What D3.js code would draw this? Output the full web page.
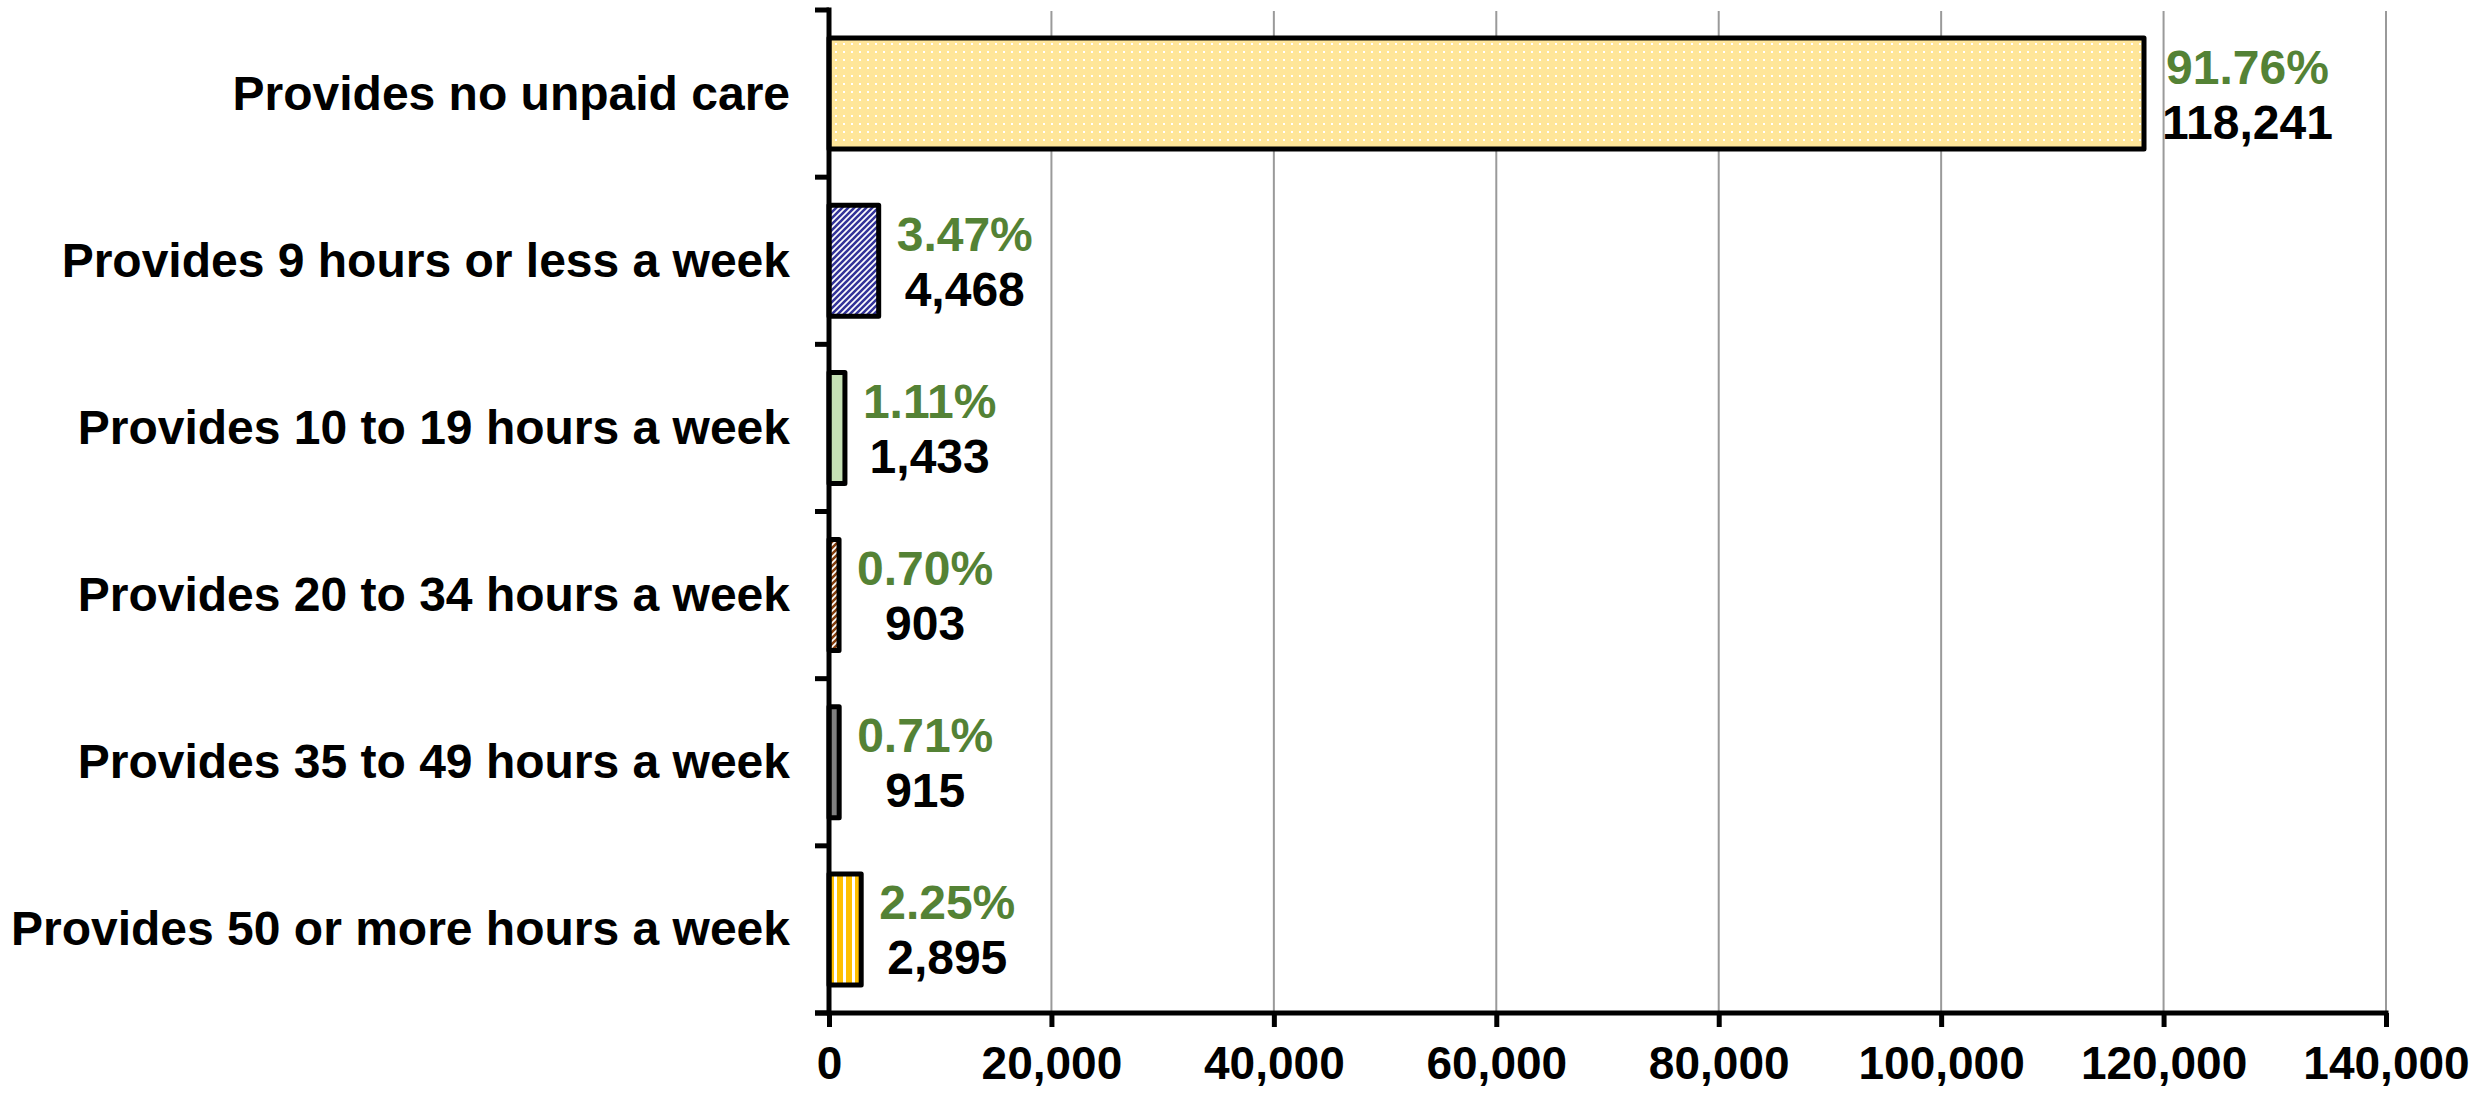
<!DOCTYPE html>
<html>
<head>
<meta charset="utf-8">
<script src="https://cdn.jsdelivr.net/npm/d3@7"></script>
<style>
  html, body { margin: 0; padding: 0; background: #fff; }
  svg { display: block; font-family: "Liberation Sans", Arial, sans-serif; font-weight: bold; }
</style>
</head>
<body>
<svg id="chart" width="2491" height="1093"></svg>
<script>
// Unpaid care provided - horizontal bar chart

const categories = [
  "Provides no unpaid care",
  "Provides 9 hours or less a week",
  "Provides 10 to 19 hours a week",
  "Provides 20 to 34 hours a week",
  "Provides 35 to 49 hours a week",
  "Provides 50 or more hours a week"
];
const counts = [118241, 4468, 1433, 903, 915, 2895];
const percents = ["91.76%", "3.47%", "1.11%", "0.70%", "0.71%", "2.25%"];
const xTicks = [0, 20000, 40000, 60000, 80000, 100000, 120000, 140000];

const PLOT_LEFT = 829;
const PLOT_RIGHT = 2386;
const PLOT_TOP = 10;
const PLOT_BOTTOM = 1013;
const FONT_SIZE = 48;
const TICK_FONT_SIZE = 46;
const COLOR_PCT = "#548235";
const COLOR_GRID = "#9a9a9a";

const svg = d3.select("#chart");
const defs = svg.append("defs");

// Fill patterns, one per bar
const dots = defs.append("pattern").attr("id", "pat0")
  .attr("patternUnits", "userSpaceOnUse").attr("width", 8).attr("height", 8);
dots.append("rect").attr("width", 8).attr("height", 8).attr("fill", "#FFE699");
dots.append("rect").attr("x", 3).attr("y", 3).attr("width", 2).attr("height", 2).attr("fill", "#fff");

const diag = (id, color) => {
  const p = defs.append("pattern").attr("id", id)
    .attr("patternUnits", "userSpaceOnUse").attr("width", 6).attr("height", 6);
  p.append("rect").attr("width", 6).attr("height", 6).attr("fill", "#fff");
  p.append("path")
    .attr("d", "M-1.5,1.5 L1.5,-1.5 M0,6 L6,0 M4.5,7.5 L7.5,4.5")
    .attr("stroke", color).attr("stroke-width", 2.6);
};
diag("pat1", "#333399");
diag("pat3", "#843C0C");

const vert = defs.append("pattern").attr("id", "pat5")
  .attr("patternUnits", "userSpaceOnUse").attr("width", 9).attr("height", 9);
vert.append("rect").attr("width", 9).attr("height", 9).attr("fill", "#fff");
vert.append("rect").attr("width", 6).attr("height", 9).attr("fill", "#FFC000");

const fills = ["url(#pat0)", "url(#pat1)", "#C5E0B4", "url(#pat3)", "#808080", "url(#pat5)"];

const x = d3.scaleLinear().domain([0, 140000]).range([PLOT_LEFT, PLOT_RIGHT]);
const y = d3.scaleBand().domain(categories).range([PLOT_TOP, PLOT_BOTTOM])
  .paddingInner(0.336).paddingOuter(0.168);

// Gridlines
svg.append("g")
  .selectAll("line")
  .data(xTicks.slice(1))
  .join("line")
  .attr("x1", (d) => x(d)).attr("x2", (d) => x(d))
  .attr("y1", PLOT_TOP + 1).attr("y2", PLOT_BOTTOM)
  .attr("stroke", COLOR_GRID).attr("stroke-width", 2);

// Bars
const barData = categories.map((c, i) => ({ cat: c, value: counts[i], pct: percents[i], fill: fills[i] }));

svg.append("g")
  .selectAll("rect")
  .data(barData)
  .join("rect")
  .attr("x", x(0))
  .attr("y", (d) => y(d.cat))
  .attr("width", (d) => x(d.value) - x(0))
  .attr("height", y.bandwidth())
  .attr("fill", (d) => d.fill)
  .attr("stroke", "#000")
  .attr("stroke-width", 5)
  .attr("stroke-linejoin", "round");

// X axis
const xAxis = svg.append("g")
  .attr("transform", "translate(0," + PLOT_BOTTOM + ")")
  .call(d3.axisBottom(x).tickValues(xTicks).tickSize(14).tickSizeOuter(0)
    .tickPadding(19).tickFormat(d3.format(",")));
xAxis.select(".domain").remove();
xAxis.selectAll(".tick line").attr("stroke", "#000").attr("stroke-width", 5);
xAxis.selectAll("text")
  .attr("font-size", TICK_FONT_SIZE).attr("font-family", "Liberation Sans, Arial, sans-serif")
  .attr("font-weight", "bold").attr("fill", "#000");

// Y axis: ticks at band boundaries
const step = y.step();
const bounds = categories.map((c) => y(c) - step * y.paddingInner() / 2);
bounds.push(PLOT_BOTTOM);

svg.append("g")
  .selectAll("line")
  .data(bounds)
  .join("line")
  .attr("x1", PLOT_LEFT - 14).attr("x2", PLOT_LEFT)
  .attr("y1", (d) => d).attr("y2", (d) => d)
  .attr("stroke", "#000").attr("stroke-width", 5);

// Axis lines
svg.append("line")
  .attr("x1", PLOT_LEFT).attr("x2", PLOT_LEFT)
  .attr("y1", PLOT_TOP - 2.5).attr("y2", PLOT_BOTTOM + 2.5)
  .attr("stroke", "#000").attr("stroke-width", 5);
svg.append("line")
  .attr("x1", PLOT_LEFT - 14).attr("x2", PLOT_RIGHT + 2.5)
  .attr("y1", PLOT_BOTTOM).attr("y2", PLOT_BOTTOM)
  .attr("stroke", "#000").attr("stroke-width", 5);

// Category labels
svg.append("g")
  .selectAll("text")
  .data(categories)
  .join("text")
  .attr("x", 790)
  .attr("y", (d) => y(d) + y.bandwidth() / 2 + 16)
  .attr("text-anchor", "end")
  .attr("font-size", FONT_SIZE)
  .attr("fill", "#000")
  .text((d) => d);

// Data labels: percentage over count, centred in a box right of the bar end
const labels = svg.append("g")
  .selectAll("g")
  .data(barData)
  .join("g");

labels.each(function(d) {
  const g = d3.select(this);
  const cy = y(d.cat) + y.bandwidth() / 2;
  const pct = g.append("text")
    .attr("y", cy - 10)
    .attr("text-anchor", "middle")
    .attr("font-size", FONT_SIZE)
    .attr("fill", COLOR_PCT)
    .text(d.pct);
  const num = g.append("text")
    .attr("y", cy + 45)
    .attr("text-anchor", "middle")
    .attr("font-size", FONT_SIZE)
    .attr("fill", "#000")
    .text(d3.format(",")(d.value));
  const w = Math.max(pct.node().getComputedTextLength(), num.node().getComputedTextLength());
  const cx = x(d.value) + 18 + w / 2;
  pct.attr("x", cx);
  num.attr("x", cx);
});
</script>
</body>
</html>
